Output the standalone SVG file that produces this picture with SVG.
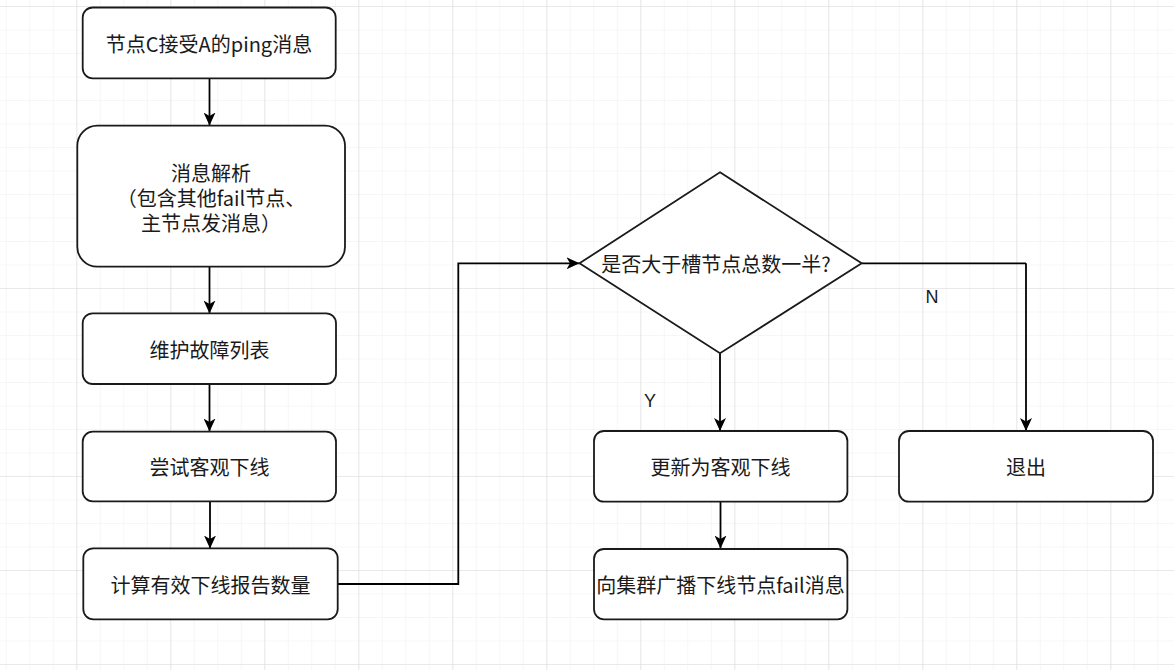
<svg xmlns="http://www.w3.org/2000/svg" width="1174" height="670" viewBox="0 0 1174 670">
<defs>
<pattern id="minor" x="76.3" y="6" width="23.5" height="23.5" patternUnits="userSpaceOnUse">
<path d="M0,0 H23.5 M0,0 V23.5" fill="none" stroke="#eeeeee" stroke-width="1"/>
</pattern>
<pattern id="major" x="76.3" y="6" width="94" height="94" patternUnits="userSpaceOnUse">
<path d="M0,0 H94 M0,0 V94" fill="none" stroke="#dcdcdc" stroke-width="1.2"/>
</pattern>
<marker id="arr" markerWidth="14" markerHeight="12" refX="13" refY="6" orient="auto" markerUnits="userSpaceOnUse">
<path d="M0,0 L13,6 L0,12 L3.5,6 Z" fill="#000"/>
</marker>
<style>
.box{fill:#fff;stroke:#1a1a1a;stroke-width:1.8}
.t{font-family:"Microsoft YaHei","Noto Sans CJK SC",sans-serif;font-size:20px;fill:#1a1a1a;text-anchor:middle;dominant-baseline:central}
.lbl{font-family:"Liberation Sans","Noto Sans CJK SC",sans-serif;font-size:18px;fill:#1a1a1a;text-anchor:middle;dominant-baseline:central}
.c{fill:none;stroke:#000;stroke-width:1.8;marker-end:url(#arr)}
.cn{fill:none;stroke:#000;stroke-width:1.8}
</style>
</defs>
<rect width="1174" height="670" fill="#fff"/>
<rect width="1174" height="670" fill="url(#minor)"/>
<rect width="1174" height="670" fill="url(#major)"/>

<g id="connectors">
<path class="c" d="M209.5,78.5 V125.5"/>
<path class="c" d="M209.5,266.5 V313.5"/>
<path class="c" d="M209.5,384 V431.5"/>
<path class="c" d="M210,501.5 V548.5"/>
<path class="c" d="M337.5,584 H458.3 V263.3 H579.5"/>
<path class="c" d="M720,353.3 V431"/>
<path class="cn" d="M861.7,263.3 H1026"/>
<path class="c" d="M1026,263.3 V431"/>
<path class="c" d="M720.5,501.5 V548.5"/>
<text class="lbl" x="650" y="401">Y</text>
<text class="lbl" x="932" y="297">N</text>
</g>

<g id="n1"><rect class="box" x="82.7" y="7.5" width="253" height="70.8" rx="10"/><text class="t" x="209" y="43">节点C接受A的ping消息</text></g>
<g id="n2"><rect class="box" x="77.3" y="125.7" width="267.7" height="141" rx="20"/>
<text class="t" x="211" y="172">消息解析<tspan x="211" dy="25">（包含其他fail节点、</tspan><tspan x="211" dy="24.5">主节点发消息）</tspan></text></g>
<g id="n3"><rect class="box" x="82.7" y="313.3" width="253.3" height="70.7" rx="10"/><text class="t" x="209.5" y="349">维护故障列表</text></g>
<g id="n4"><rect class="box" x="82.7" y="431.7" width="253.3" height="69.6" rx="10"/><text class="t" x="209.5" y="466.5">尝试客观下线</text></g>
<g id="n5"><rect class="box" x="83.3" y="548.3" width="254.4" height="71" rx="10"/><text class="t" x="210.5" y="584">计算有效下线报告数量</text></g>
<g id="d1"><path class="box" d="M720,172.3 L861.7,263.3 L720,353.3 L579.5,263.3 Z"/><text class="t" x="716" y="263">是否大于槽节点总数一半?</text></g>
<g id="n6"><rect class="box" x="594" y="431" width="253.4" height="70.7" rx="10"/><text class="t" x="720.5" y="466.5">更新为客观下线</text></g>
<g id="n7"><rect class="box" x="899" y="431" width="254" height="70.7" rx="10"/><text class="t" x="1026" y="466.5">退出</text></g>
<g id="n8"><rect class="box" x="594" y="549" width="253.4" height="70.3" rx="10"/><text class="t" x="720.5" y="584">向集群广播下线节点fail消息</text></g>
</svg>
